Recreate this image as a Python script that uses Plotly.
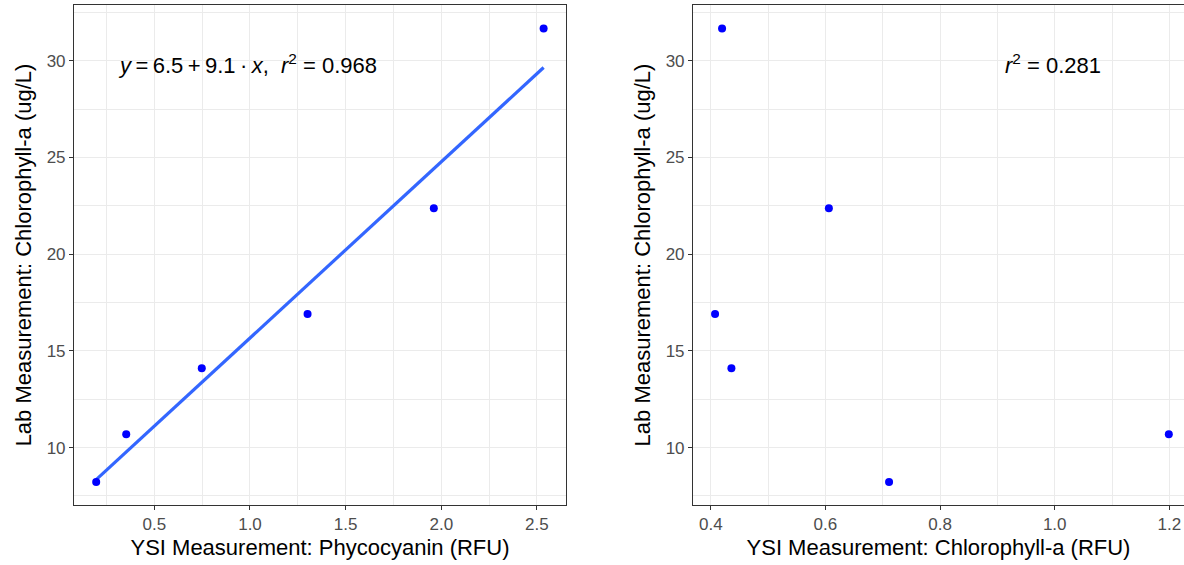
import numpy as np
import plotly.graph_objects as go

# Data
lab_chla = [8.22, 10.69, 14.10, 16.90, 22.37, 31.67]
ysi_phyco = [0.196, 0.353, 0.748, 1.301, 1.961, 2.535]
ysi_chla = [0.711, 1.199, 0.436, 0.4075, 0.606, 0.4197]

left_xticks = [0.5, 1.0, 1.5, 2.0, 2.5]
right_xticks = [0.4, 0.6, 0.8, 1.0, 1.2]
yticks = [10, 15, 20, 25, 30]

eq_label = "<i>y</i>\u2009=\u20096.5\u2009+\u20099.1\u2009·\u2009<i>x</i>,  <i>r</i><sup>2</sup> = 0.968"
r2_label = "<i>r</i><sup>2</sup> = 0.281"

W, H = 1184, 565
FONT = "Liberation Sans, Arial, sans-serif"
GRID = "#EBEBEB"
BORDER = "#333333"

# regression line for the left panel
slope, intercept = np.polyfit(ysi_phyco, lab_chla, 1)
fx = [min(ysi_phyco), max(ysi_phyco)]
fy = [intercept + slope * v for v in fx]

fig = go.Figure()
fig.add_trace(go.Scatter(x=fx, y=fy, mode="lines",
                         line=dict(color="#3366FF", width=3.2),
                         xaxis="x", yaxis="y", showlegend=False, hoverinfo="skip"))
fig.add_trace(go.Scatter(x=ysi_phyco, y=lab_chla, mode="markers",
                         marker=dict(color="#0000FF", size=8),
                         xaxis="x", yaxis="y", showlegend=False))
fig.add_trace(go.Scatter(x=ysi_chla, y=lab_chla, mode="markers",
                         marker=dict(color="#0000FF", size=8),
                         xaxis="x2", yaxis="y2", showlegend=False,
                         cliponaxis=True))

axis_common = dict(
    showgrid=True, gridcolor=GRID, gridwidth=1.2,
    zeroline=False, showline=True, linecolor=BORDER, linewidth=1.1,
    ticks="outside", ticklen=4, tickwidth=1.1, tickcolor=BORDER,
    tickfont=dict(family=FONT, size=17, color="#4D4D4D"),
    title_font=dict(family=FONT, size=22, color="#000000"),
)

fig.update_layout(
    width=W, height=H,
    margin=dict(l=0, r=0, t=5, b=60),
    paper_bgcolor="white", plot_bgcolor="white",
    font=dict(family=FONT),
    xaxis=dict(axis_common, domain=[74 / W, 566 / W], range=[0.08, 2.652],
               tickvals=left_xticks, ticktext=[f"{v:.1f}" for v in left_xticks],
               minor=dict(showgrid=True, gridcolor=GRID, gridwidth=0.7, dtick=0.25, tick0=0),
               mirror=True, anchor="y",
               title=dict(text="YSI Measurement: Phycocyanin (RFU)", standoff=6)),
    yaxis=dict(axis_common, domain=[0, 1], range=[7.03, 32.88],
               tickvals=yticks, minor=dict(showgrid=True, gridcolor=GRID, gridwidth=0.7, dtick=2.5, tick0=0),
               mirror=True, anchor="x",
               title=dict(text="Lab Measurement: Chlorophyll-a (ug/L)", standoff=8)),
    xaxis2=dict(axis_common, domain=[693 / W, 1.0], range=[0.369, 1.2255],
                tickvals=right_xticks, ticktext=[f"{v:.1f}" for v in right_xticks],
                minor=dict(showgrid=True, gridcolor=GRID, gridwidth=0.7, dtick=0.1, tick0=0),
                mirror=True, anchor="y2",
                title=dict(text="YSI Measurement: Chlorophyll-a (RFU)", standoff=6)),
    yaxis2=dict(axis_common, domain=[0, 1], range=[7.03, 32.88],
                tickvals=yticks, minor=dict(showgrid=True, gridcolor=GRID, gridwidth=0.7, dtick=2.5, tick0=0),
                mirror=False, anchor="x2",
                title=dict(text="Lab Measurement: Chlorophyll-a (ug/L)", standoff=8)),
)

fig.add_annotation(x=0.298, y=29.85, xref="x", yref="y", text=eq_label,
                   showarrow=False, xanchor="left", yanchor="middle",
                   font=dict(family=FONT, size=22, color="#000000"))
fig.add_annotation(x=0.9095, y=29.85, xref="x2", yref="y2", text=r2_label,
                   showarrow=False, xanchor="left", yanchor="middle",
                   font=dict(family=FONT, size=22, color="#000000"))

fig.write_html("out.html",
               config={"displayModeBar": False},
               post_script="document.body.style.margin='0';document.body.style.overflow='hidden';")
